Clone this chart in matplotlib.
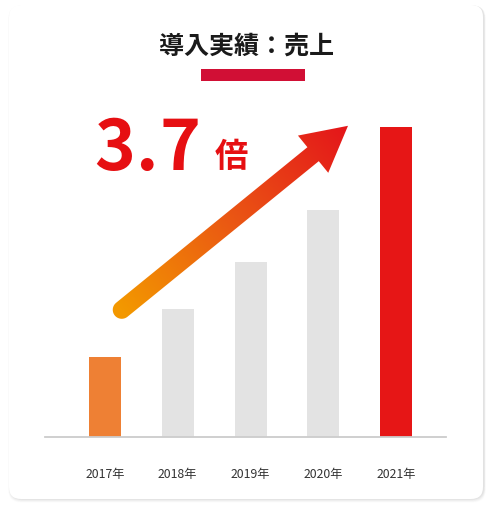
import numpy as np
import matplotlib
matplotlib.use("Agg")
import matplotlib.pyplot as plt
from matplotlib.patches import FancyBboxPatch, Polygon, Rectangle
from matplotlib.colors import LinearSegmentedColormap

plt.rcParams['font.family'] = ['Noto Sans CJK JP', 'DejaVu Sans']

# data (relative sales, 2017 = 1)
years = ['2017年', '2018年', '2019年', '2020年', '2021年']
sales = [1.0, 1.6, 2.19, 2.84, 3.87]
bar_colors = ['#ee8034', '#e3e3e3', '#e3e3e3', '#e3e3e3', '#e61616']
title = '導入実績：売上'
ratio_chars = ['3', '.', '7']
ratio_unit = '倍'
# arrow start / end in data units (category index, sales)
arrow_from = (0.23, 1.59)
arrow_to = (3.34, 3.89)

W, H = 492, 512
fig = plt.figure(figsize=(W / 100, H / 100), dpi=100)
fig.patch.set_facecolor('white')

# background card with soft shadow
bg = fig.add_axes([0, 0, 1, 1])
bg.set_xlim(0, W)
bg.set_ylim(0, H)
bg.axis('off')
for i, a in enumerate([0.025, 0.025, 0.02, 0.02, 0.015, 0.01]):
    off = i + 1
    bg.add_patch(FancyBboxPatch((9 - off * 0.3 + 1, 13 - off * 0.6), 474 + off * 0.6, 494 + off * 0.5,
                                boxstyle='round,pad=0,rounding_size=13', fc='black', ec='none', alpha=a))
bg.add_patch(FancyBboxPatch((9, 13), 474, 494, boxstyle='round,pad=0,rounding_size=12',
                            fc='white', ec='none'))

# bars
xl, xr = 45, 446
base_y, top_y = 437, 120
ax = fig.add_axes([xl / W, 1 - base_y / H, (xr - xl) / W, (base_y - top_y) / H])
ax.patch.set_alpha(0)
x = np.arange(len(years))
ax.bar(x, sales, width=0.44, color=bar_colors, zorder=2)
ax.set_xlim(-0.825, 4.687)
ax.set_ylim(0, (base_y - top_y) / 80)
for s in ['top', 'right', 'left']:
    ax.spines[s].set_visible(False)
ax.spines['bottom'].set_color('#cccccc')
ax.spines['bottom'].set_linewidth(1.3)
ax.set_yticks([])
ax.set_xticks(x)
ax.set_xticklabels(years, fontsize=8.8, color='#333333')
ax.tick_params(axis='x', length=0, pad=22)

# overlay for arrow and texts (pixel coords, y up)
ov = fig.add_axes([0, 0, 1, 1])
ov.set_xlim(0, W)
ov.set_ylim(0, H)
ov.axis('off')
ov.patch.set_alpha(0)

fig.canvas.draw()
to_px = ax.transData.transform
t0 = np.array(to_px(arrow_from))
t1 = np.array(to_px(arrow_to))
L = np.linalg.norm(t1 - t0)
u = (t1 - t0) / L
n = np.array([-u[1], u[0]])
hw, head_len, head_hw = 9.0, 45.0, 24.0
neck = t1 - u * head_len
pts = [t0 + n * hw, neck + n * hw, neck + n * head_hw, t1, neck - n * head_hw, neck - n * hw]
# round tail cap
for th in np.linspace(0, np.pi, 24):
    pts.append(t0 + hw * (np.cos(th) * (-n) + np.sin(th) * (-u)))
arrow = Polygon(np.array(pts), closed=True, fc='none', ec='none', transform=ov.transData)
ov.add_patch(arrow)

# gradient along the arrow direction
gx, gy = np.meshgrid(np.linspace(0, W, 400), np.linspace(0, H, 400))
proj = ((gx - t0[0]) * u[0] + (gy - t0[1]) * u[1]) / L
proj = np.clip(proj, 0, 1)
cmap = LinearSegmentedColormap.from_list('ar', ['#f39800', '#ea5514', '#e4151a'])
im = ov.imshow(proj, extent=(0, W, 0, H), origin='lower', cmap=cmap, vmin=0, vmax=1,
               aspect='auto', zorder=3)
im.set_clip_path(arrow)

# texts
ov.text(W / 2 + 1, H - 47, title, ha='center', va='center', fontsize=18,
        fontweight='bold', color='#1a1a1a')
ov.add_patch(Rectangle((201, H - 81), 104, 12, fc='#d10f35', ec='none'))
for ch, cx in zip(ratio_chars, [115, 146, 180]):
    ov.text(cx, H - 150, ch, ha='center', va='center', fontsize=50, fontweight='bold',
            color='#e60f12')
ov.text(231, H - 157, ratio_unit, ha='center', va='center', fontsize=24, fontweight='bold',
        color='#e60f12')

fig.savefig('out.png', dpi=100, facecolor='white')
